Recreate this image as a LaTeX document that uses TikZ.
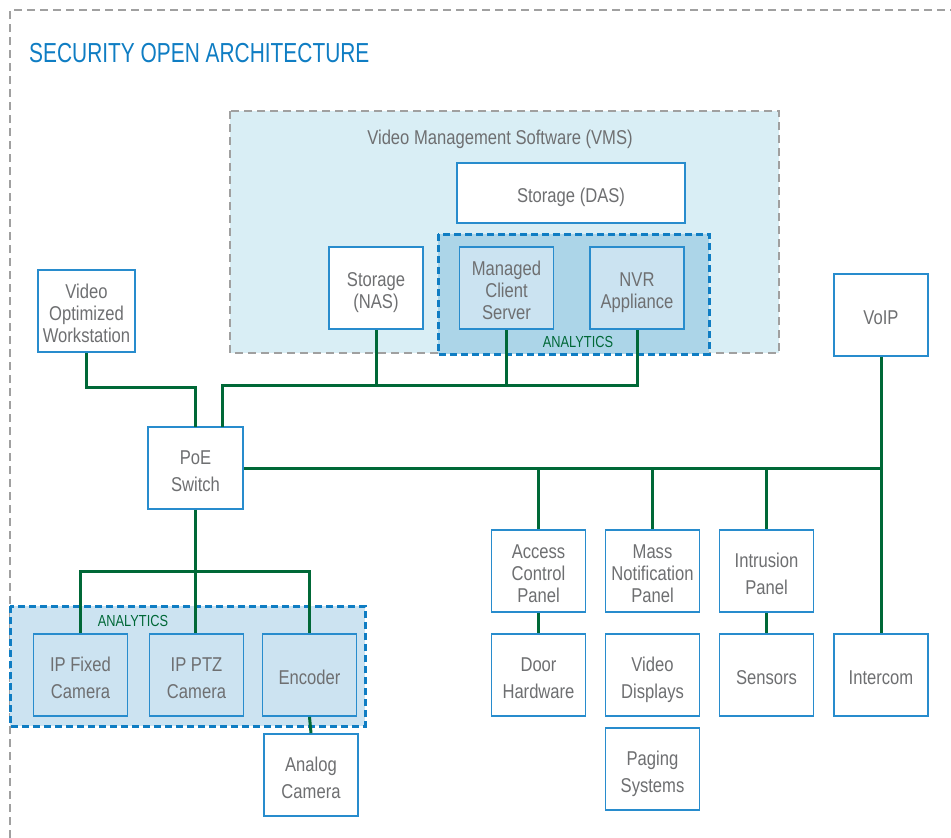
\documentclass[tikz,border=0pt]{standalone}
\usepackage{fontspec}
\setmainfont{Liberation Sans}
\newfontfamily\bodyfont[FakeStretch=0.83]{Liberation Sans}
\newfontfamily\titlefont[FakeStretch=0.76]{Liberation Sans}
\newfontfamily\anafont[FakeStretch=0.80]{Liberation Sans}
\definecolor{txtgray}{RGB}{110,111,113}
\definecolor{boxblue}{RGB}{40,140,205}
\definecolor{linegreen}{RGB}{0,104,55}
\definecolor{vmsfill}{RGB}{217,238,245}
\definecolor{anafill}{RGB}{172,213,232}
\definecolor{boxfill}{RGB}{203,227,241}
\definecolor{anafill2}{RGB}{204,227,241}
\definecolor{dashblue}{RGB}{15,125,195}
\definecolor{titleblue}{RGB}{15,125,195}
\definecolor{framegray}{RGB}{160,160,160}
\newcommand{\bx}[1]{\raisebox{-5pt}[\height][\depth]{\begin{tabular}{@{}c@{}}#1\end{tabular}}}
\tikzset{
  box/.style={draw=boxblue, line width=1.8pt, fill=white, inner sep=0pt,
    minimum width=94pt, minimum height=82pt, text=txtgray,
    font=\bodyfont\fontsize{20}{22}\selectfont},
  loose/.style={font=\bodyfont\fontsize{20}{27}\selectfont},
  abox/.style={box, fill=boxfill},
  conn/.style={draw=linegreen, line width=3pt},
  anaframe/.style={draw=dashblue, line width=3pt, dash pattern=on 7pt off 4pt},
  analabel/.style={text=linegreen, inner sep=0pt, font=\anafont\fontsize{16}{18}\selectfont},
}
\begin{document}
\begin{tikzpicture}[x=1pt,y=-1pt]
\useasboundingbox (0,0) rectangle (951,838);
% outer frame
\draw[framegray, line width=2pt, dash pattern=on 8pt off 5pt] (10,838) -- (10,10) -- (951,10);
\node[anchor=base west, inner sep=0pt, text=titleblue, font=\titlefont\fontsize{27.5}{30}\selectfont] (title) at (29,62.7) {SECURITY OPEN ARCHITECTURE};
% VMS group
\draw[fill=vmsfill, draw=framegray, line width=2pt, dash pattern=on 8pt off 5pt] (230,111) rectangle (779,353);
\node[text=txtgray, inner sep=0pt, font=\bodyfont\fontsize{20}{22}\selectfont] (vmslabel) at (500,139) {Video Management Software (VMS)};
\draw[fill=anafill, anaframe] (438,234) rectangle (709,354);
\node[analabel] (analytics1) at (578,342) {ANALYTICS};
% bottom analytics group
\draw[fill=anafill2, anaframe] (10,606) rectangle (365,726);
\node[analabel] (analytics2) at (133,621) {ANALYTICS};
% nodes
\node[box, minimum width=228pt, minimum height=60pt] (das) at (571,193) {\bx{Storage (DAS)}};
\node[box] (nas) at (376,288) {\bx{Storage\\(NAS)}};
\node[abox] (mcs) at (506.5,288) {\bx{Managed\\Client\\Server}};
\node[abox] (nvr) at (637,288) {\bx{NVR\\Appliance}};
\node[box, minimum width=97pt] (ws) at (86.5,311) {\bx{Video\\Optimized\\Workstation}};
\node[box, loose, minimum width=95pt] (poe) at (195.5,468) {\bx{PoE\\Switch}};
\node[box] (voip) at (881,315) {\bx{VoIP}};
\node[box] (acp) at (538.5,571) {\bx{Access\\Control\\Panel}};
\node[box] (mnp) at (652.5,571) {\bx{Mass\\Notification\\Panel}};
\node[box, loose] (intr) at (766.5,571) {\bx{Intrusion\\Panel}};
\node[box, loose] (door) at (538.5,675) {\bx{Door\\Hardware}};
\node[box, loose] (vdisp) at (652.5,675) {\bx{Video\\Displays}};
\node[box] (sens) at (766.5,675) {\bx{Sensors}};
\node[box] (icom) at (881,675) {\bx{Intercom}};
\node[box, loose] (paging) at (652.5,769) {\bx{Paging\\Systems}};
\node[abox, loose, fill=anafill2] (ipfixed) at (80.5,675) {\bx{IP Fixed\\Camera}};
\node[abox, loose, fill=anafill2] (ptz) at (196.5,675) {\bx{IP PTZ\\Camera}};
\node[abox, fill=anafill2] (enc) at (309.5,675) {\bx{Encoder}};
\node[box, loose] (analog) at (311,775) {\bx{Analog\\Camera}};
% connectors
\coordinate (vmsbus) at (222,385);
\draw[conn] (ws.south) |- (195,387) -- (195,427);
\draw[conn] (222,427) -- (vmsbus) -| (nas.south);
\draw[conn] (vmsbus) -| (mcs.south);
\draw[conn] (vmsbus) -| (nvr.south);
\draw[conn] (voip.south) -- (icom.north);
\draw[conn] (poe.east) -- (poe.east -| voip.south);
\draw[conn] (acp.north) -- (acp.north |- poe.east);
\draw[conn] (mnp.north) -- (mnp.north |- poe.east);
\draw[conn] (intr.north) -- (intr.north |- poe.east);
\draw[conn] (acp.south) -- (door.north);
\draw[conn] (intr.south) -- (sens.north);
\draw[conn] (poe.south) -- (poe.south |- ptz.north);
\draw[conn] (ipfixed.north) |- (195.5,571) -| (enc.north);
\draw[conn] (enc.south) -- (analog.north);
\end{tikzpicture}
\end{document}
